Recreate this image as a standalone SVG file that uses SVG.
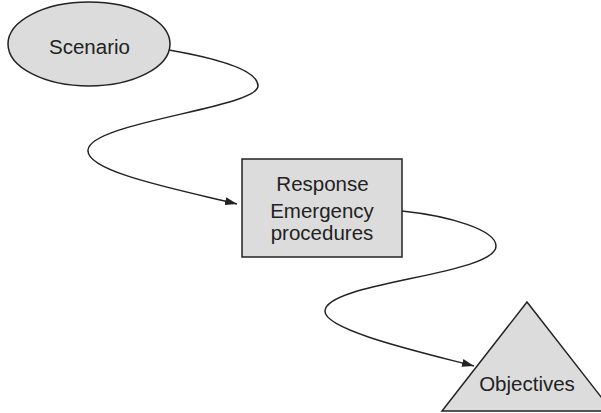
<svg xmlns="http://www.w3.org/2000/svg" width="601" height="413" viewBox="0 0 601 413">
  <style>
    .shape { fill: #dcdcdc; stroke: #222; stroke-width: 1.5; }
    .label { font-family: "Liberation Sans", Arial, sans-serif; font-size: 20.5px; fill: #222; text-anchor: middle; }
    .link { fill: none; stroke: #222; stroke-width: 1.5; }
  </style>
  <defs>
    <marker id="arrow" viewBox="0 0 12 8" refX="12" refY="4" markerWidth="12" markerHeight="8" markerUnits="userSpaceOnUse" orient="auto">
      <path d="M0,0 L12,4 L0,8 z" fill="#222"/>
    </marker>
  </defs>

  <g id="scenario">
    <ellipse class="shape" cx="89" cy="44" rx="81" ry="42"/>
    <text class="label" x="89.5" y="54">Scenario</text>
  </g>

  <g id="response">
    <rect class="shape" x="242" y="159" width="160" height="98"/>
    <text class="label" x="322.5" y="191">Response</text>
    <text class="label" x="322" y="218">Emergency</text>
    <text class="label" x="322" y="240">procedures</text>
  </g>

  <g id="objectives">
    <polygon class="shape" points="527,302 442,411 612,411"/>
    <text class="label" x="527" y="391">Objectives</text>
  </g>

  <g id="connectors">
    <path class="link" marker-end="url(#arrow)" d="M169,50 C215,58 258,70 258,86 C258,108 90,122 88,150 C86,172 180,190 237,204"/>
    <path class="link" marker-end="url(#arrow)" d="M402,211 C450,216 496,230 496,246 C496,275 326,282 325,311 C324,330 420,352 474,366"/>
  </g>
</svg>
